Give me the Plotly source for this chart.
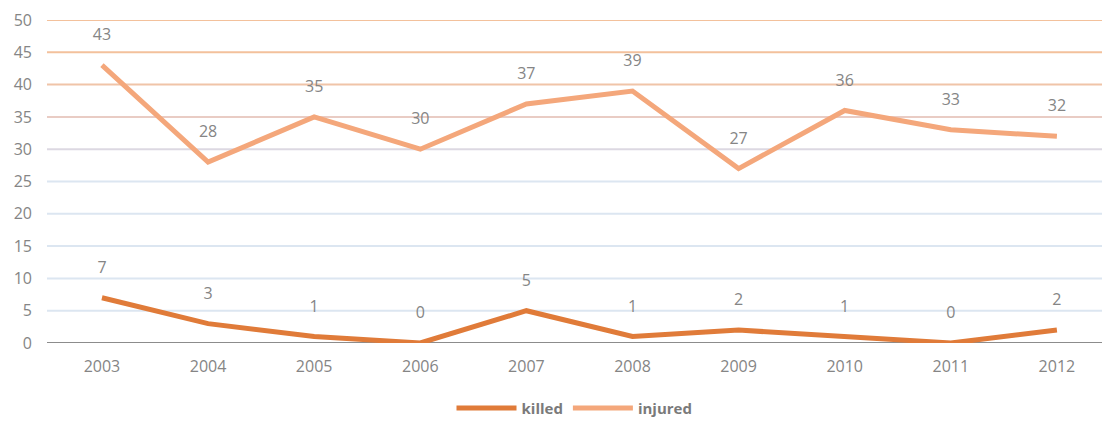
import plotly.graph_objects as go

years = ["2003", "2004", "2005", "2006", "2007", "2008", "2009", "2010", "2011", "2012"]
killed = [7, 3, 1, 0, 5, 1, 2, 1, 0, 2]
injured = [43, 28, 35, 30, 37, 39, 27, 36, 33, 32]
y_ticks = [0, 5, 10, 15, 20, 25, 30, 35, 40, 45, 50]
grid_colors = ["#8c8c8c", "#dce6f1", "#dce6f1", "#dce6f1", "#dce6f1", "#dce6f1",
               "#dcd8e2", "#e9ccc4", "#f0c4a8", "#f3c19c", "#f3c19c"]

c_killed = "#e07b39"
c_injured = "#f4a77b"
gray = "#858585"

fig = go.Figure()
fig.add_trace(go.Scatter(x=years, y=killed, mode="lines+text", name="killed",
                         text=[f"{v}<br> " for v in killed], textposition="top center",
                         textfont=dict(color=gray, size=16),
                         line=dict(color=c_killed, width=5)))
fig.add_trace(go.Scatter(x=years, y=injured, mode="lines+text", name="injured",
                         text=[f"{v}<br> " for v in injured], textposition="top center",
                         textfont=dict(color=gray, size=16),
                         line=dict(color=c_injured, width=5)))

shapes = []
for v, c in zip(y_ticks, grid_colors):
    shapes.append(dict(type="line", xref="paper", yref="y", x0=0, x1=1, y0=v, y1=v,
                       line=dict(color=c, width=2), layer="below"))

fig.update_layout(
    width=1102, height=421,
    margin=dict(l=47, r=0, t=20, b=78, autoexpand=False),
    paper_bgcolor="white", plot_bgcolor="white",
    font=dict(family="Open Sans", color=gray, size=16),
    shapes=shapes,
    showlegend=True,
    legend=dict(orientation="h", x=0.5, xanchor="center", yref="container",
                y=0.03, yanchor="middle",
                font=dict(size=15, color="#7a7a7a", weight="bold"), itemwidth=60),
    xaxis=dict(type="category", range=[-0.518, 9.425], showgrid=False, showline=False,
               zeroline=False, ticks="", ticklabelstandoff=12,
               tickfont=dict(size=16, color=gray)),
    yaxis=dict(range=[0, 50], tickvals=y_ticks, showgrid=False, zeroline=False,
               showline=False, ticks="", ticklabelstandoff=14,
               tickfont=dict(size=16, color=gray)),
)

fig.write_html("out.html")
